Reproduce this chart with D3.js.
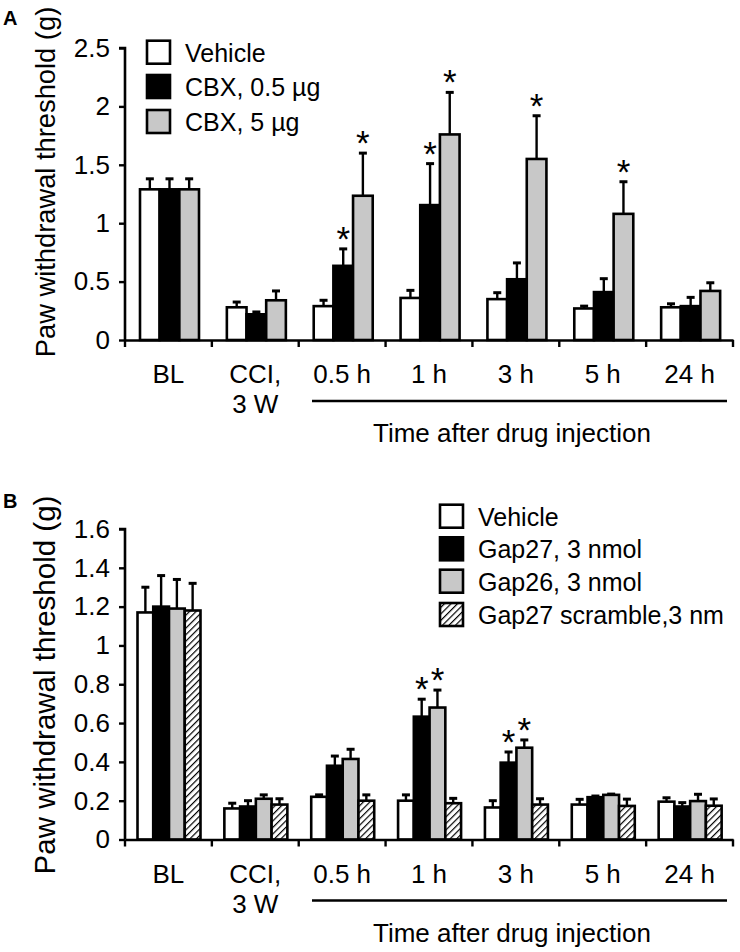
<!DOCTYPE html>
<html>
<head>
<meta charset="utf-8">
<script src="https://cdn.jsdelivr.net/npm/d3@7"></script>
<style>
  html, body { margin: 0; padding: 0; background: #fff; }
  svg { display: block; }
  text { font-family: "Liberation Sans", Arial, Helvetica, sans-serif; fill: #000; }
</style>
</head>
<body>
<script>
// ---------- DATA ----------
const groupLabels = [["BL"], ["CCI,", "3 W"], ["0.5 h"], ["1 h"], ["3 h"], ["5 h"], ["24 h"]];

// Panel A
const seriesA = ["Vehicle", "CBX, 0.5 µg", "CBX, 5 µg"];
const meanA_vehicle = [1.29, 0.28, 0.29, 0.36, 0.35, 0.27, 0.28];
const errA_vehicle  = [0.09, 0.045, 0.05, 0.065, 0.055, 0.02, 0.03];
const meanA_cbx05   = [1.29, 0.22, 0.635, 1.155, 0.52, 0.41, 0.29];
const errA_cbx05    = [0.09, 0.02, 0.145, 0.355, 0.14, 0.115, 0.075];
const meanA_cbx5    = [1.29, 0.34, 1.235, 1.76, 1.55, 1.08, 0.42];
const errA_cbx5     = [0.09, 0.08, 0.365, 0.36, 0.37, 0.275, 0.07];
const starsA = [[2, 1], [2, 2], [3, 1], [3, 2], [4, 2], [5, 2]]; // [group, series]
const ticksA = [0, 0.5, 1, 1.5, 2, 2.5];
const tickLabelsA = ["0", "0.5", "1", "1.5", "2", "2.5"];

// Panel B
const seriesB = ["Vehicle", "Gap27, 3 nmol", "Gap26, 3 nmol", "Gap27 scramble,3 nm"];
const meanB_vehicle = [1.17, 0.16, 0.22, 0.20, 0.165, 0.18, 0.195];
const errB_vehicle  = [0.13, 0.027, 0.01, 0.03, 0.035, 0.027, 0.02];
const meanB_gap27   = [1.20, 0.17, 0.38, 0.633, 0.396, 0.218, 0.17];
const errB_gap27    = [0.16, 0.03, 0.05, 0.09, 0.055, 0.006, 0.02];
const meanB_gap26   = [1.19, 0.21, 0.415, 0.68, 0.473, 0.23, 0.198];
const errB_gap26    = [0.15, 0.02, 0.05, 0.09, 0.04, 0.004, 0.035];
const meanB_scr     = [1.18, 0.18, 0.20, 0.187, 0.18, 0.173, 0.174];
const errB_scr      = [0.14, 0.03, 0.03, 0.025, 0.03, 0.035, 0.035];
const starsB = [[3, 1], [3, 2], [4, 1], [4, 2]];
const ticksB = [0, 0.2, 0.4, 0.6, 0.8, 1, 1.2, 1.4, 1.6];
const tickLabelsB = ["0", "0.2", "0.4", "0.6", "0.8", "1", "1.2", "1.4", "1.6"];

const xAxisTitle = "Time after drug injection";
const yAxisTitle = "Paw withdrawal threshold (g)";

// ---------- DRAW ----------
const W = 740, H = 952;
const svg = d3.select("body").append("svg").attr("width", W).attr("height", H);

const defs = svg.append("defs");
const pat = defs.append("pattern")
  .attr("id", "hatch").attr("patternUnits", "userSpaceOnUse")
  .attr("width", 4.6).attr("height", 4.6)
  .attr("patternTransform", "rotate(45)");
pat.append("rect").attr("width", 4.6).attr("height", 4.6).attr("fill", "#fff");
pat.append("line").attr("x1", 0).attr("y1", 0).attr("x2", 0).attr("y2", 4.6)
  .attr("stroke", "#000").attr("stroke-width", 2.4);

const FONT = 26;
const groupIdx = d3.range(groupLabels.length);

function drawPanel(cfg) {
  const g = svg.append("g");
  const x0 = d3.scaleBand().domain(groupIdx).range([125, 733]).paddingInner(0).paddingOuter(0);
  const x1 = d3.scaleBand().domain(d3.range(cfg.series.length)).range(cfg.innerRange).padding(0);
  const y = d3.scaleLinear().domain(cfg.domain).range(cfg.yRange);

  // bars
  cfg.means.forEach((arr, s) => {
    g.append("g").selectAll("g.bar").data(arr).join("g").each(function (d, i) {
      const bx = x0(i) + x1(s);
      const cx = bx + x1.bandwidth() / 2;
      const top = y(d + cfg.errs[s][i]);
      const sel = d3.select(this);
      sel.append("line").attr("x1", cx).attr("x2", cx)
        .attr("y1", y(d)).attr("y2", top)
        .attr("stroke", "#000").attr("stroke-width", 2.4);
      sel.append("line").attr("x1", cx - 4).attr("x2", cx + 4)
        .attr("y1", top).attr("y2", top)
        .attr("stroke", "#000").attr("stroke-width", 3);
      sel.append("rect").attr("x", bx).attr("y", y(d))
        .attr("width", x1.bandwidth()).attr("height", y(0) - y(d))
        .attr("fill", cfg.fills[s]).attr("stroke", "#000").attr("stroke-width", 2.6);
    });
  });

  // stars
  cfg.stars.forEach(([gi, s]) => {
    const cx = x0(gi) + x1(s) + x1.bandwidth() / 2;
    const top = y(cfg.means[s][gi] + cfg.errs[s][gi]);
    g.append("text").attr("x", cx).attr("y", top - 17 + 19)
      .attr("text-anchor", "middle").attr("font-size", 35).text("*");
  });

  // y axis
  const yAxis = d3.axisLeft(y).tickValues(cfg.ticks)
    .tickFormat((d, i) => cfg.tickLabels[i]).tickSize(6).tickPadding(9);
  const ya = g.append("g").attr("transform", "translate(125,0)").call(yAxis);
  ya.select(".domain").attr("stroke-width", 2.6).attr("d", `M-6,${y(cfg.domain[1])}H0V${y(0)}`);
  ya.selectAll(".tick line").attr("stroke-width", 2.4);
  ya.selectAll(".tick text").attr("font-size", FONT).attr("font-family", null).attr("fill", "#000");

  // x axis
  const xAxis = d3.axisBottom(x0).tickValues([]).tickSizeOuter(0);
  const xa = g.append("g").attr("transform", `translate(0,${y(0)})`).call(xAxis);
  xa.select(".domain").attr("stroke-width", 2.6);
  const bounds = groupIdx.map(i => x0(i)).concat([x0.range()[1]]);
  xa.selectAll("line.gt").data(bounds).join("line").attr("class", "gt")
    .attr("x1", d => d).attr("x2", d => d).attr("y1", 0).attr("y2", 7)
    .attr("stroke", "#000").attr("stroke-width", 2.4);

  // group labels
  groupLabels.forEach((lines, i) => {
    lines.forEach((t, k) => {
      g.append("text").attr("x", x0(i) + x0.bandwidth() / 2)
        .attr("y", y(0) + 43 + k * 30).attr("text-anchor", "middle")
        .attr("font-size", FONT).text(t);
    });
  });
  g.append("line").attr("x1", 312).attr("x2", 727)
    .attr("y1", y(0) + 61).attr("y2", y(0) + 61)
    .attr("stroke", "#000").attr("stroke-width", 2.6);
  g.append("text").attr("x", 512).attr("y", y(0) + 102).attr("text-anchor", "middle")
    .attr("font-size", FONT).text(xAxisTitle);

  // y title
  g.append("text").attr("transform", `translate(${cfg.yTitleX},${cfg.yTitleY}) rotate(-90)`)
    .attr("text-anchor", "middle").attr("font-size", cfg.yTitleSize).text(yAxisTitle);

  // panel letter
  g.append("text").attr("x", 3).attr("y", cfg.letterY).attr("font-size", 20)
    .attr("font-weight", "bold").text(cfg.letter);

  // legend
  cfg.series.forEach((name, s) => {
    const cy = cfg.legendY[s];
    g.append("rect").attr("x", cfg.legendX).attr("y", cy - 12).attr("width", 23).attr("height", 23)
      .attr("fill", cfg.fills[s]).attr("stroke", "#000").attr("stroke-width", 2.6);
    g.append("text").attr("x", cfg.legendX + 38).attr("y", cy + 9)
      .attr("font-size", 25).text(name);
  });
}

drawPanel({
  series: seriesA,
  means: [meanA_vehicle, meanA_cbx05, meanA_cbx5],
  errs: [errA_vehicle, errA_cbx05, errA_cbx5],
  fills: ["#fff", "#000", "#c8c8c8"],
  stars: starsA,
  domain: [0, 2.5], yRange: [340, 48],
  ticks: ticksA, tickLabels: tickLabelsA,
  innerRange: [15, 74],
  yTitleX: 55, yTitleY: 182, yTitleSize: 27.3,
  letter: "A", letterY: 25,
  legendX: 147, legendY: [52.7, 87, 122]
});

drawPanel({
  series: seriesB,
  means: [meanB_vehicle, meanB_gap27, meanB_gap26, meanB_scr],
  errs: [errB_vehicle, errB_gap27, errB_gap26, errB_scr],
  fills: ["#fff", "#000", "#c8c8c8", "url(#hatch)"],
  stars: starsB,
  domain: [0, 1.6], yRange: [839.5, 529],
  ticks: ticksB, tickLabels: tickLabelsB,
  innerRange: [12.5, 75.5],
  yTitleX: 55, yTitleY: 685, yTitleSize: 29.5,
  letter: "B", letterY: 508,
  legendX: 440, legendY: [516.7, 549.3, 581.7, 615]
});
</script>
</body>
</html>
